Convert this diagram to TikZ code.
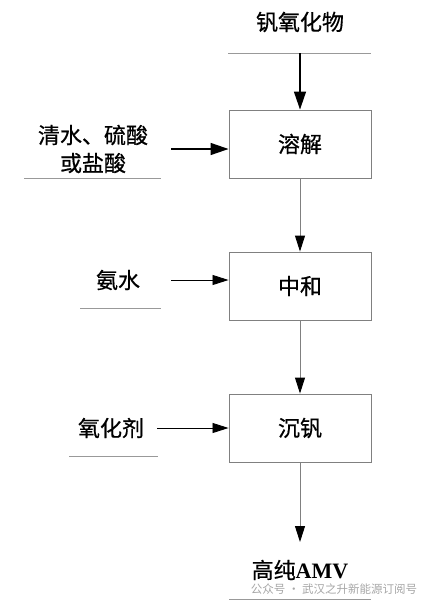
\documentclass[tikz,border=0pt]{standalone}
\usepackage{fontspec}
\newfontfamily\cjk[FakeBold=0.6]{Noto Sans CJK SC}
\newfontfamily\cjkmark{Noto Sans CJK SC}
\newfontfamily\tms{Liberation Serif}
\usetikzlibrary{arrows.meta,positioning}

\begin{document}
\begin{tikzpicture}[x=1pt,y=-1pt,
  box/.style={draw=gray, line width=0.9pt, minimum width=142pt, minimum height=68pt, font=\cjk\fontsize{22}{28}\selectfont},
  lbl/.style={font=\cjk\fontsize{22}{28}\selectfont, align=center},
  rule/.style={draw=gray!80, line width=0.8pt},
  feed/.style={black, line width=1.4pt, -{Triangle[length=18pt,width=12pt]}},
  flow/.style={gray, line width=0.9pt, -{Triangle[length=16pt,width=10pt,black]}},
  thinfeed/.style={black, line width=0.8pt, -{Triangle[length=16pt,width=10pt]}}]

        \useasboundingbox (0,0) rectangle (433,606);

        % process boxes
        \node[box] (rongjie) at (300,144) {溶解};
        \node[box] (zhonghe) at (300,286) {中和};
        \node[box] (chenfan) at (300,428) {沉钒};

        % raw material on top
        \node[lbl] (vox) at (300,22) {钒氧化物};
        \draw[rule] (228,53) coordinate(voxl) -- (371,53) coordinate(voxr);
        \coordinate (voxin) at (300,53);
        \draw[feed] (voxin) -- (rongjie.north);

        % side feeds
        \node[lbl] (acid) at (93,149) {清水、硫酸\\或盐酸};
        \draw[rule] (24,178) coordinate(acidl) -- (161,178) coordinate(acidr);
        \coordinate (acidin) at (171,149);
        \draw[feed] (acidin) -- (rongjie.west |- acidin);

        \node[lbl] (anshui) at (118,280) {氨水};
        \draw[rule] (80,308) coordinate(anshuil) -- (161,308) coordinate(anshuir);
        \coordinate (anshuiin) at (171,280);
        \draw[thinfeed] (anshuiin) -- (zhonghe.west |- anshuiin);

        \node[lbl] (oxid) at (111,428) {氧化剂};
        \draw[rule] (69,456) coordinate(oxidl) -- (158,456) coordinate(oxidr);
        \coordinate (oxidin) at (157,428);
        \draw[thinfeed] (oxidin) -- (chenfan.west |- oxidin);

        % main flow
        \draw[flow] (rongjie.south) -- (zhonghe.north);
        \draw[flow] (zhonghe.south) -- (chenfan.north);
        \coordinate (amvtip) at (300,542);
        \draw[flow] (chenfan.south) -- (amvtip);

        % product
        \node[lbl] (amv) at (300,570) {高纯{\tms\bfseries AMV}};
        \draw[rule] (229,599) coordinate(amvl) -- (371,599) coordinate(amvr);

        \node[font=\cjkmark\fontsize{11.5}{13}\selectfont, text=gray!70] (mark) at (334,589) {公众号 · 武汉之升新能源订阅号};

    \end{tikzpicture}
\end{document}
